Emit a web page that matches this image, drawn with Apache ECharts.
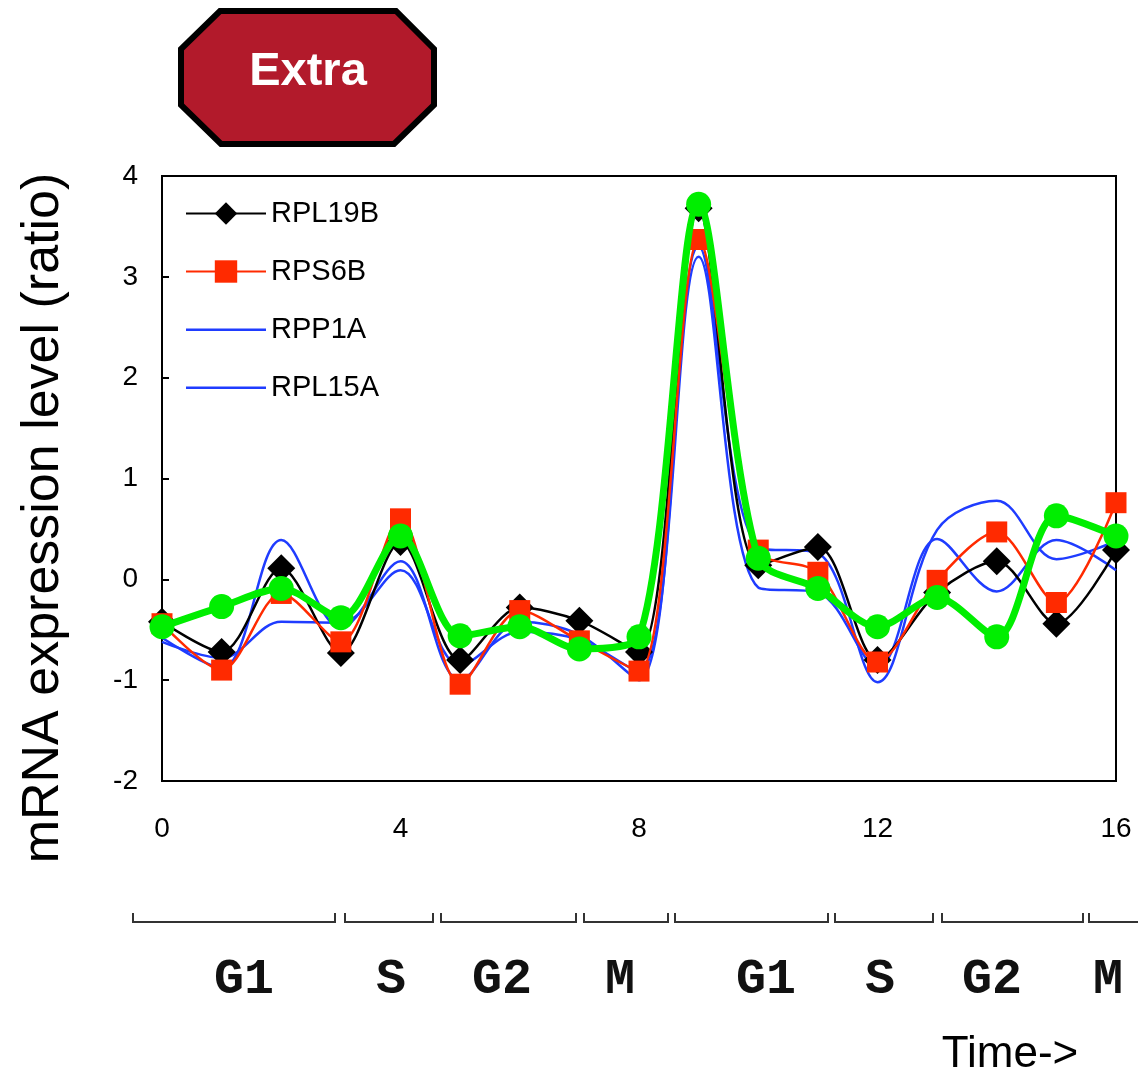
<!DOCTYPE html>
<html>
<head>
<meta charset="utf-8">
<script src="https://cdn.jsdelivr.net/npm/echarts@6/dist/echarts.min.js"></script>
<style>
html,body{margin:0;padding:0;background:#fff;}
#chart{width:1138px;height:1077px;}
</style>
</head>
<body>
<div id="chart"></div>
<script>
// ---- data ----
const timePoints = [0,1,2,3,4,5,6,7,8,9,10,11,12,13,14,15,16];
const rpl19b = [-0.42,-0.72,0.11,-0.73,0.37,-0.80,-0.28,-0.41,-0.72,3.68,0.14,0.32,-0.80,-0.13,0.18,-0.44,0.29];
const rps6b  = [-0.44,-0.90,-0.14,-0.62,0.60,-1.04,-0.31,-0.61,-0.91,3.37,0.29,0.07,-0.82,-0.01,0.47,-0.23,0.76];
const rpp1a  = [-0.58,-0.88,0.39,-0.48,0.18,-1.00,-0.42,-0.55,-1.00,3.30,0.32,0.26,-1.02,0.49,0.78,0.20,0.38];
const rpl15a = [-0.62,-0.78,-0.42,-0.43,0.09,-0.85,-0.52,-0.60,-0.92,3.20,-0.08,-0.13,-0.87,0.40,-0.12,0.39,0.09];
const extra  = [-0.47,-0.27,-0.09,-0.38,0.43,-0.56,-0.47,-0.69,-0.57,3.72,0.21,-0.09,-0.47,-0.18,-0.57,0.63,0.43];
const legendNames = ['RPL19B','RPS6B','RPP1A','RPL15A'];
const phaseLabels = ['G1','S','G2','M','G1','S','G2','M'];
const yTitle = 'mRNA expression level (ratio)';
const xTitle = 'Time->';
const badgeText = 'Extra';

// ---- layout (decoration) ----
const phaseSpans = [[133,335],[345,433],[441,576],[584,668],[675,828],[835,933],[942,1083],[1089,1150]];
const phaseCenters = [244,391,502,620,766,880,992,1108];

const pair = arr => timePoints.map((t,i)=>[t,arr[i]]);
const FONT = '"Liberation Sans", Arial, sans-serif';
const lineIcon = 'path://M0,0Z M80,28Z M0,13L80,13L80,15.5L0,15.5Z';

const graphics = [];
graphics.push({
  type:'polygon',
  shape:{points:[[220,11],[396,11],[434,49],[434,105],[394,144],[221,144],[181,105],[181,49]]},
  style:{fill:'#b21a2b',stroke:'#000',lineWidth:6}
});
graphics.push({
  type:'text', x:308, y:72,
  style:{text:badgeText, font:'bold 47px ' + FONT, fill:'#fff', align:'center', verticalAlign:'middle'}
});
graphics.push({
  type:'text', x:44, y:518, rotation:Math.PI/2,
  style:{text:yTitle, font:'52px ' + FONT, fill:'#000', align:'center', verticalAlign:'middle'}
});
phaseSpans.forEach(s=>{
  graphics.push({
    type:'polyline',
    shape:{points:[[s[0],913],[s[0],922],[s[1],922],[s[1],913]]},
    style:{stroke:'#333',lineWidth:2,fill:null}
  });
});
phaseLabels.forEach((lab,i)=>{
  graphics.push({
    type:'text', x:phaseCenters[i], y:980,
    style:{text:lab, font:'bold 50px "Liberation Mono", "Courier New", monospace', fill:'#111', align:'center', verticalAlign:'middle'}
  });
});
graphics.push({
  type:'text', x:1010, y:1055,
  style:{text:xTitle, font:'44px ' + FONT, fill:'#000', align:'center', verticalAlign:'middle'}
});

const chart = echarts.init(document.getElementById('chart'), null, {renderer:'canvas'});
chart.setOption({
  backgroundColor:'#fff',
  animation:false,
  grid:{left:162,right:22,top:176,bottom:296,show:true,borderColor:'#000',borderWidth:2,containLabel:false},
  legend:{
    orient:'vertical', left:180, top:194,
    itemWidth:80, itemHeight:28, itemGap:29,
    textStyle:{fontFamily:FONT,fontSize:29,color:'#000',lineHeight:28},
    data:[
      {name:'RPL19B'},
      {name:'RPS6B'},
      {name:'RPP1A', icon:lineIcon},
      {name:'RPL15A', icon:lineIcon}
    ]
  },
  xAxis:{
    type:'value', min:0, max:16, interval:4,
    axisLine:{show:true,onZero:false,lineStyle:{color:'#000',width:2}},
    axisTick:{show:false},
    splitLine:{show:false},
    axisLabel:{fontFamily:FONT,fontSize:28,color:'#000',margin:34}
  },
  yAxis:{
    type:'value', min:-2, max:4, interval:1,
    axisLine:{show:true,onZero:false,lineStyle:{color:'#000',width:2}},
    axisTick:{show:true,inside:true,length:7,lineStyle:{color:'#000',width:2}},
    splitLine:{show:false},
    axisLabel:{fontFamily:FONT,fontSize:28,color:'#000',margin:24}
  },
  series:[
    {name:legendNames[2], type:'line', data:pair(rpp1a), smooth:0.35, symbol:'none',
     lineStyle:{color:'#1f3cff',width:2.5}, itemStyle:{color:'#1f3cff'}, z:2},
    {name:legendNames[3], type:'line', data:pair(rpl15a), smooth:0.35, symbol:'none',
     lineStyle:{color:'#1f3cff',width:2.5}, itemStyle:{color:'#1f3cff'}, z:2},
    {name:legendNames[0], type:'line', data:pair(rpl19b), smooth:0.3, symbol:'diamond', symbolSize:28,
     lineStyle:{color:'#000',width:2.5}, itemStyle:{color:'#000'}, z:3},
    {name:legendNames[1], type:'line', data:pair(rps6b), smooth:0.3, symbol:'rect', symbolSize:21,
     lineStyle:{color:'#ff2a00',width:2.5}, itemStyle:{color:'#ff2a00'}, z:4},
    {name:'Extra', type:'line', data:pair(extra), smooth:0.3, symbol:'circle', symbolSize:25,
     lineStyle:{color:'#00ee00',width:7}, itemStyle:{color:'#00ee00'}, z:5}
  ],
  graphic:{elements:graphics}
});
</script>
</body>
</html>
